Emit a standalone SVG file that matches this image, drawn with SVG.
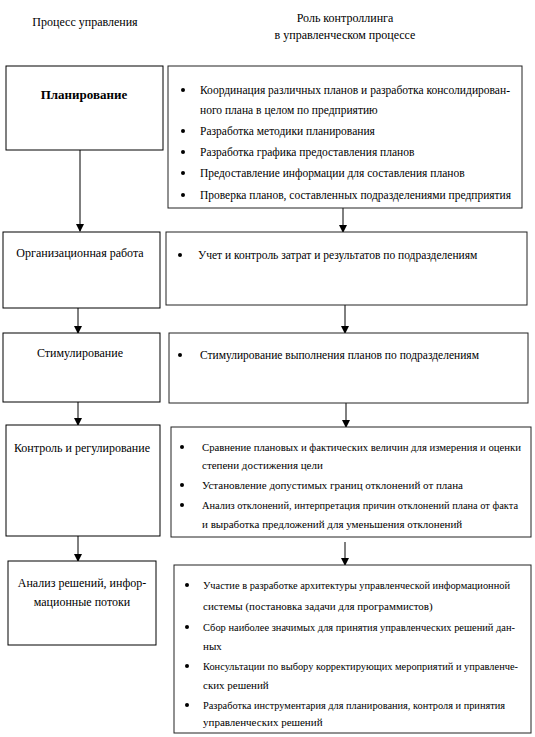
<svg xmlns="http://www.w3.org/2000/svg" width="535" height="737" viewBox="0 0 535 737">
<defs>
<marker id="ah" markerWidth="8" markerHeight="10" refX="7" refY="4" orient="auto" markerUnits="userSpaceOnUse">
<path d="M0,0 L8,4 L0,8 Z" fill="#000"/>
</marker>
<style>
text{font-family:"Liberation Serif","Times New Roman",serif;font-size:12px;fill:#000}
.c{text-anchor:middle}
.b{font-weight:bold;font-size:13px}
.r{font-size:11.5px}
.s{font-size:11px}
.xs{font-size:10.6px}
.box{fill:#fff;stroke:#000;stroke-width:1}
.rbox{fill:#fff;stroke:#222;stroke-width:1}
.arr{stroke:#000;stroke-width:1;fill:none;marker-end:url(#ah)}
.dot{fill:#000}
</style>
</defs>
<rect width="535" height="737" fill="#fff"/>
<g id="headers">
<text class="c" x="85" y="26">Процесс управления</text>
<text class="c" x="345" y="22">Роль контроллинга</text>
<text class="c" x="345" y="39">в управленческом процессе</text>
</g>
<g id="connectors">
<line class="arr" x1="80" y1="150" x2="80" y2="231"/>
<line class="arr" x1="343" y1="208" x2="343" y2="232"/>
<line class="arr" x1="78" y1="308" x2="78" y2="333"/>
<line class="arr" x1="345" y1="305" x2="345" y2="333"/>
<line class="arr" x1="78" y1="402" x2="78" y2="425"/>
<line class="arr" x1="346" y1="403" x2="346" y2="427"/>
<line class="arr" x1="78" y1="536" x2="78" y2="561"/>
<line class="arr" x1="345" y1="542" x2="345" y2="565"/>
</g>
<g id="L1">
<rect class="box" x="6" y="66" width="157" height="84"/>
<text class="c b" x="84" y="99">Планирование</text>
</g>
<g id="R1">
<rect class="rbox" x="168" y="66" width="354" height="142"/>
<circle class="dot" cx="183" cy="90" r="2"/>
<circle class="dot" cx="183" cy="131" r="2"/>
<circle class="dot" cx="183" cy="152" r="2"/>
<circle class="dot" cx="183" cy="173" r="2"/>
<circle class="dot" cx="183" cy="195" r="2"/>
<text class="r" x="200" y="94" textLength="310" lengthAdjust="spacingAndGlyphs">Координация различных планов и разработка консолидирован-</text>
<text class="r" x="200" y="114">ного плана в целом по предприятию</text>
<text class="r" x="200" y="135">Разработка методики планирования</text>
<text class="r" x="200" y="156">Разработка графика предоставления планов</text>
<text class="r" x="200" y="177">Предоставление информации для составления планов</text>
<text class="r" x="200" y="199" textLength="311" lengthAdjust="spacingAndGlyphs">Проверка планов, составленных подразделениями предприятия</text>
</g>
<g id="L2">
<rect class="box" x="3" y="232" width="157" height="76"/>
<text class="c" x="80" y="257">Организационная работа</text>
</g>
<g id="R2">
<rect class="rbox" x="166" y="232" width="361" height="73"/>
<circle class="dot" cx="180" cy="255" r="2"/>
<text class="r" x="198" y="259">Учет и контроль затрат и результатов по подразделениям</text>
</g>
<g id="L3">
<rect class="box" x="3" y="333" width="157" height="69"/>
<text class="c" x="80" y="357">Стимулирование</text>
</g>
<g id="R3">
<rect class="rbox" x="169" y="333" width="359" height="70"/>
<circle class="dot" cx="180" cy="355" r="2"/>
<text class="r" x="200" y="359">Стимулирование выполнения планов по подразделениям</text>
</g>
<g id="L4">
<rect class="box" x="6" y="425" width="154" height="111"/>
<text class="c" x="82" y="452">Контроль и регулирование</text>
</g>
<g id="R4">
<rect class="rbox" x="171" y="427" width="360" height="110"/>
<circle class="dot" cx="182" cy="447" r="2"/>
<circle class="dot" cx="182" cy="485" r="2"/>
<circle class="dot" cx="182" cy="505" r="2"/>
<text class="s" x="202" y="451" textLength="319" lengthAdjust="spacingAndGlyphs">Сравнение плановых и фактических величин для измерения и оценки</text>
<text class="s" x="202" y="469">степени достижения цели</text>
<text class="s" x="202" y="489">Установление допустимых границ отклонений от плана</text>
<text class="xs" x="202" y="509" textLength="316" lengthAdjust="spacingAndGlyphs">Анализ отклонений, интерпретация причин отклонений плана от факта</text>
<text class="s" x="202" y="528">и выработка предложений для уменьшения отклонений</text>
</g>
<g id="L5">
<rect class="box" x="8" y="561" width="148" height="84"/>
<text class="c" x="82" y="587">Анализ решений, инфор-</text>
<text class="c" x="82" y="606">мационные потоки</text>
</g>
<g id="R5">
<rect class="rbox" x="174" y="565" width="357" height="168"/>
<circle class="dot" cx="187" cy="585" r="2"/>
<circle class="dot" cx="187" cy="627" r="2"/>
<circle class="dot" cx="187" cy="666" r="2"/>
<circle class="dot" cx="187" cy="705" r="2"/>
<text class="xs" x="203" y="589" textLength="307" lengthAdjust="spacingAndGlyphs">Участие в разработке архитектуры управленческой информационной</text>
<text class="s" x="203" y="610">системы (постановка задачи для программистов)</text>
<text class="xs" x="203" y="631" textLength="312" lengthAdjust="spacingAndGlyphs">Сбор наиболее значимых для принятия управленческих решений дан-</text>
<text class="s" x="203" y="650">ных</text>
<text class="xs" x="203" y="670" textLength="315" lengthAdjust="spacingAndGlyphs">Консультации по выбору корректирующих мероприятий и управленче-</text>
<text class="s" x="203" y="689">ских решений</text>
<text class="xs" x="203" y="709" textLength="302" lengthAdjust="spacingAndGlyphs">Разработка инструментария для планирования, контроля и принятия</text>
<text class="s" x="203" y="726">управленческих решений</text>
</g>
</svg>
